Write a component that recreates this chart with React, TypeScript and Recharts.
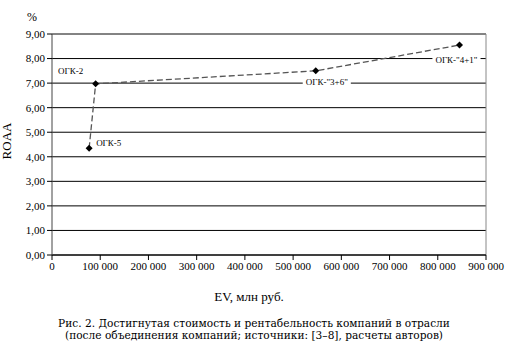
import React from 'react';
import { ComposedChart, Line, XAxis, YAxis, CartesianGrid, ReferenceLine, LabelList } from 'recharts';

const companies = ['ОГК-5', 'ОГК-2', 'ОГК-"3+6"', 'ОГК-"4+1"'];
const evValues = [77000, 90500, 547000, 845000];
const roaaValues = [4.35, 6.97, 7.5, 8.55];
const xTicks = [0, 100000, 200000, 300000, 400000, 500000, 600000, 700000, 800000, 900000];
const yTicks = [0, 1, 2, 3, 4, 5, 6, 7, 8, 9];
const labelPlacement = ['right', 'aboveLeft', 'below', 'belowRight'];

const data = companies.map((name, i) => ({ name, ev: evValues[i], roaa: roaaValues[i], place: labelPlacement[i] }));

const serif = '"Liberation Serif", serif';
const wideSerif = '"DejaVu Serif", serif';

const fmtX = (v: number) => String(v).replace(/\B(?=(\d{3})+(?!\d))/g, ' ');
const fmtY = (v: number) => v.toFixed(2).replace('.', ',');

const Diamond = (props: any) => {
  const { cx, cy, index } = props;
  if (cx == null || cy == null) return null;
  const s = 3.5;
  return <polygon key={index} points={`${cx},${cy - s} ${cx + s},${cy} ${cx},${cy + s} ${cx - s},${cy}`} fill="#000" />;
};

const PointLabel = (props: any) => {
  const { x, y, value, index } = props;
  const place = labelPlacement[index];
  const w = value.length * 4.9 + 4;
  let tx = x, ty = y, anchor: 'start' | 'middle' | 'end' = 'start';
  if (place === 'right') { tx = x + 7; ty = y - 5; anchor = 'start'; }
  else if (place === 'aboveLeft') { tx = x - 25; ty = y - 13; anchor = 'middle'; }
  else if (place === 'below') { tx = x + 11; ty = y + 11; anchor = 'middle'; }
  else { tx = x - 3; ty = y + 15; anchor = 'middle'; }
  const rx = anchor === 'start' ? tx - 2 : tx - w / 2;
  return (
    <g>
      {place === 'below' || place === 'belowRight' ? <rect x={rx} y={ty - 6} width={w} height={12} fill="#fff" /> : null}
      <text x={tx} y={ty} textAnchor={anchor} dominantBaseline="central" fontSize={9} fontFamily={serif} fill="#000">{value}</text>
    </g>
  );
};

export default function App() {
  return (
    <div style={{ position: 'absolute', left: 0, top: 0, width: 513, height: 356, background: '#fff', fontFamily: serif }}>
      <ComposedChart width={513} height={356} data={data} margin={{ top: 34, right: 27, left: 0, bottom: 71 }}>
        <CartesianGrid vertical={false} stroke="#000" strokeWidth={1} />
        <XAxis
          dataKey="ev"
          type="number"
          domain={[0, 900000]}
          ticks={xTicks}
          tickFormatter={fmtX}
          interval={0}
          height={30}
          tickSize={5}
          axisLine={{ stroke: '#000' }}
          tickLine={{ stroke: '#000' }}
          tick={{ fontSize: 11, fontFamily: serif, fill: '#000' }}
        />
        <YAxis
          type="number"
          domain={[0, 9]}
          ticks={yTicks}
          tickFormatter={fmtY}
          interval={0}
          width={52}
          tickSize={5}
          axisLine={{ stroke: '#444' }}
          tickLine={{ stroke: '#000' }}
          tick={{ fontSize: 11, fontFamily: serif, fill: '#000' }}
        />
        <ReferenceLine y={9} stroke="#888" />
        <ReferenceLine x={900000} stroke="#888" />
        <Line
          dataKey="roaa"
          stroke="#555"
          strokeWidth={1.3}
          strokeDasharray="6 3"
          dot={<Diamond />}
          activeDot={false}
          isAnimationActive={false}
        >
          <LabelList dataKey="name" content={<PointLabel />} />
        </Line>
      </ComposedChart>
      <div style={{ position: 'absolute', left: 32, top: 17, fontSize: 12, lineHeight: '12px', transform: 'translate(-50%, -50%)' }}>%</div>
      <div style={{ position: 'absolute', left: 6, top: 141, fontSize: 13, lineHeight: '13px', transform: 'translate(-50%, -50%) rotate(-90deg)', whiteSpace: 'nowrap' }}>ROAA</div>
      <div style={{ position: 'absolute', left: 249, top: 296, fontSize: 13, lineHeight: '13px', transform: 'translate(-50%, -50%)', whiteSpace: 'nowrap' }}>EV, млн руб.</div>
      <div style={{ position: 'absolute', left: 254, top: 329, fontFamily: wideSerif, fontSize: 10.6, lineHeight: '12px', transform: 'translate(-50%, -50%)', textAlign: 'center', whiteSpace: 'nowrap' }}>
        Рис. 2. Достигнутая стоимость и рентабельность компаний в отрасли<br />
        (после объединения компаний; источники: [3–8], расчеты авторов)
      </div>
    </div>
  );
}
